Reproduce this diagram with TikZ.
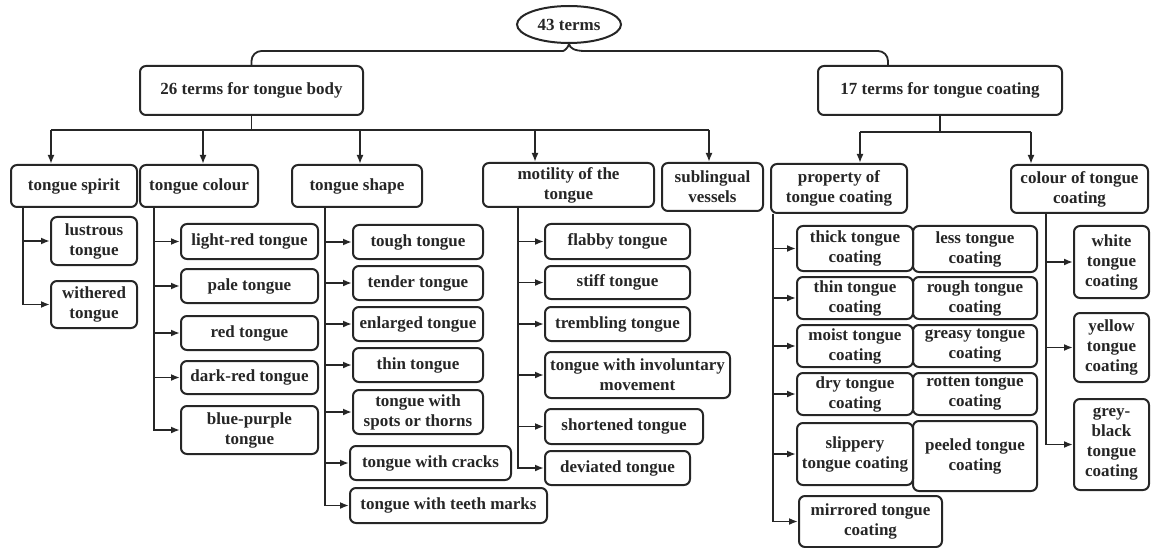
\documentclass[tikz,border=0pt]{standalone}
\usepackage{fontspec}
\setmainfont{Liberation Serif}
\usetikzlibrary{arrows.meta, positioning, shapes.geometric, calc}
\definecolor{lineink}{HTML}{262626}

\begin{document}
\begin{tikzpicture}[x=1pt, y=-1pt,
    term/.style={draw=lineink, text=lineink, line width=2pt, rounded corners=6pt,
                 align=center, inner sep=1pt, font=\fontsize{17}{20}\selectfont\bfseries},
    wh/.style 2 args={minimum width=#1pt, minimum height=#2pt},
    link/.style={draw=lineink, line width=1.8pt},
    arr/.style={link, -{Latex[length=9pt, width=7pt]}},
]
    \useasboundingbox (0,0) rectangle (1151,548);

    \node[term, ellipse, sharp corners, inner sep=0pt, wh={104}{37}] (all) at (569,24.5) {43 terms};

    \node[term, wh={223}{49}] (body) at (251.5,90.5) {26 terms for tongue body};
    \node[term, wh={244}{49}] (coat) at (940,90.5) {17 terms for tongue coating};

    \node[term, wh={126}{42}] (spirit) at (74,186) {tongue spirit};
    \node[term, wh={118}{42}] (colour) at (199,186) {tongue colour};
    \node[term, wh={130}{42}] (shape) at (357,186) {tongue shape};
    \node[term, wh={171}{44}] (motil) at (568.5,185) {motility of the\\tongue};
    \node[term, wh={101}{48}] (subl) at (712.5,187) {sublingual\\vessels};
    \node[term, wh={136}{49}] (prop) at (839,188.5) {property of\\tongue coating};
    \node[term, wh={137}{48}] (ccol) at (1079.5,189) {colour of tongue\\coating};

    \node[term, wh={86}{48}] (lustrous) at (94,241) {lustrous\\tongue};
    \node[term, wh={86}{47}] (withered) at (94,304.5) {withered\\tongue};

    \node[term, wh={137}{35}] (lightred) at (249.5,241.5) {light-red tongue};
    \node[term, wh={137}{34}] (pale) at (249.5,286) {pale tongue};
    \node[term, wh={137}{34}] (red) at (249.5,333) {red tongue};
    \node[term, wh={137}{33}] (darkred) at (249.5,377.5) {dark-red tongue};
    \node[term, wh={137}{48}] (bluepurple) at (249.5,430) {blue-purple\\tongue};

    \node[term, wh={130}{34}] (tough) at (418,242) {tough tongue};
    \node[term, wh={130}{34}] (tender) at (418,283) {tender tongue};
    \node[term, wh={130}{34}] (enlarged) at (418,324) {enlarged tongue};
    \node[term, wh={130}{34}] (thin) at (418,365) {thin tongue};
    \node[term, wh={130}{44}] (spots) at (418,412) {tongue with\\spots or thorns};
    \node[term, wh={161}{34}] (cracks) at (430.5,463) {tongue with cracks};
    \node[term, wh={197}{35}] (teeth) at (448.5,505.5) {tongue with teeth marks};

    \node[term, wh={145}{35}] (flabby) at (617.5,241.5) {flabby tongue};
    \node[term, wh={145}{33}] (stiff) at (617.5,282.5) {stiff tongue};
    \node[term, wh={145}{34}] (trembling) at (617.5,324) {trembling tongue};
    \node[term, wh={185}{46}] (involuntary) at (637.5,375) {tongue with involuntary\\movement};
    \node[term, wh={158}{35}] (shortened) at (624,426.5) {shortened tongue};
    \node[term, wh={145}{34}] (deviated) at (617.5,468) {deviated tongue};

    \node[term, wh={116}{45}] (thick) at (855,248.5) {thick tongue\\coating};
    \node[term, wh={124}{46}] (less) at (975,249) {less tongue\\coating};
    \node[term, wh={116}{42}] (thinc) at (855,298) {thin tongue\\coating};
    \node[term, wh={124}{42}] (rough) at (975,298) {rough tongue\\coating};
    \node[term, wh={116}{42}] (moist) at (855,346) {moist tongue\\coating};
    \node[term, wh={124}{42}] (greasy) at (975,346) {greasy tongue\\coating};
    \node[term, wh={116}{42}] (dry) at (855,394) {dry tongue\\coating};
    \node[term, wh={124}{42}] (rotten) at (975,394) {rotten tongue\\coating};
    \node[term, wh={116}{62}] (slippery) at (855,454) {slippery\\tongue coating};
    \node[term, wh={124}{70}] (peeled) at (975,456) {peeled tongue\\coating};
    \node[term, wh={143}{51}] (mirrored) at (870.5,521.5) {mirrored tongue\\coating};

    \node[term, wh={75}{72}] (white) at (1111.5,262) {white\\tongue\\coating};
    \node[term, wh={75}{69}] (yellow) at (1111.5,347.5) {yellow\\tongue\\coating};
    \node[term, wh={75}{91}] (greyblack) at (1111.5,444.5) {grey-\\black\\tongue\\coating};

    \draw[link] (body.north) [rounded corners=10pt] |- (553,51) [sharp corners]
        .. controls (564,51) and (568,48) .. (all.south)
        .. controls (570,48) and (574,51) .. (585,51) [rounded corners=10pt]
        -| ($(coat.north)+(-52,0)$);

    \draw[link] (body.south) -- (body.south |- 0,130);
    \draw[link] (51,130) -- (709,130);
    \foreach \n/\x in {spirit/51, colour/203, shape/360, motil/535, subl/709}
        \draw[arr] (\x,130) -- (\x,0 |- \n.north);

    \draw[link] (coat.south) -- (coat.south |- 0,132);
    \draw[link] (860,132) -- (1031,132);
    \foreach \n/\x in {prop/860, ccol/1031}
        \draw[arr] (\x,132) -- (\x,0 |- \n.north);

    \foreach \n in {lustrous, withered}
        \draw[arr] (spirit.south -| 23,0) |- (\n.west);
    \foreach \n in {lightred, pale, red, darkred, bluepurple}
        \draw[arr] (colour.south -| 154,0) |- (\n.west);
    \foreach \n in {tough, tender, enlarged, thin, spots, cracks, teeth}
        \draw[arr] (shape.south -| 325,0) |- (\n.west);
    \foreach \n in {flabby, stiff, trembling, involuntary, shortened, deviated}
        \draw[arr] (motil.south -| 518,0) |- (\n.west);
    \foreach \n in {thick, thinc, moist, dry, slippery, mirrored}
        \draw[arr] (prop.south -| 773,0) |- (\n.west);
    \foreach \n in {white, yellow, greyblack}
        \draw[arr] (ccol.south -| 1046,0) |- (\n.west);
\end{tikzpicture}
\end{document}
